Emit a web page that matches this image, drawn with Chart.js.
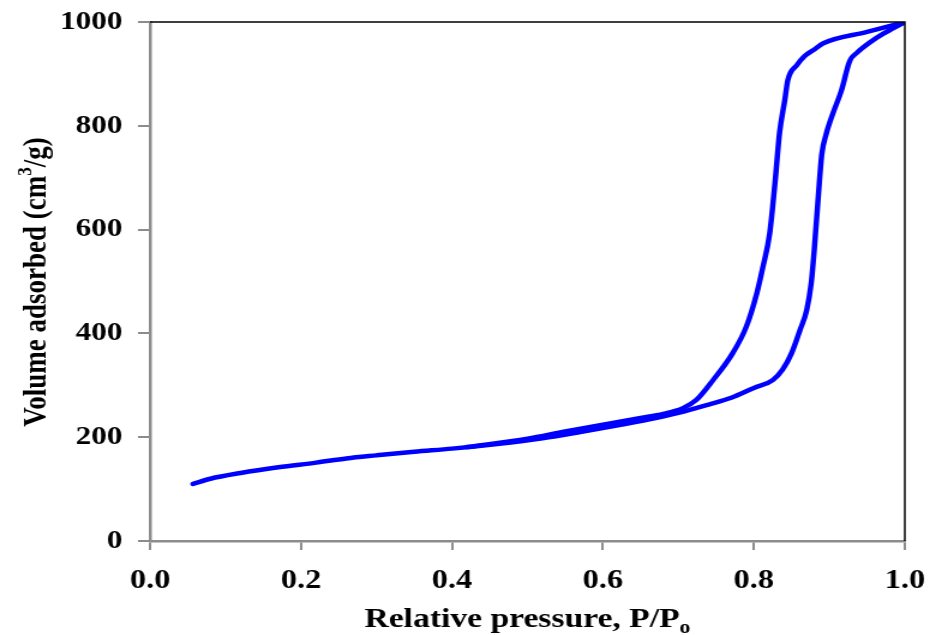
<!doctype html>
<html lang="en">
  <head>
    <meta charset="utf-8">
    <title>Isotherm</title>
    <style>
      * {
        margin: 0;
        padding: 0;
      }
      body {
        background: white;
        overflow: hidden;
      }
      /* the figure is drawn narrow and stretched sideways */
      .chartBox {
        width: 775px;
        height: 635px;
        transform: scaleX(1.2);
        transform-origin: 0 0;
      }
    </style>
  </head>
  <body>
    <div class="chartBox">
      <canvas id="myChart" width="775" height="635"></canvas>
    </div>
    <script src="https://cdn.jsdelivr.net/npm/chart.js/dist/chart.umd.min.js"></script>
    <script>
    // adsorption branch
    const adsP = [0.057, 0.08, 0.12, 0.17, 0.22, 0.26, 0.30, 0.35, 0.40, 0.46, 0.52, 0.57, 0.62, 0.66,
                  0.70, 0.74, 0.77, 0.80, 0.825, 0.838, 0.850, 0.861, 0.870, 0.876, 0.880, 0.885,
                  0.890, 0.896, 0.905, 0.916, 0.927, 0.936, 0.955, 0.971, 0.985, 1.0];
    const adsV = [110, 120, 131, 142, 151, 159, 165, 172, 178, 187, 198, 210, 223, 234,
                  247, 263, 276, 295, 310, 330, 362, 406, 445, 497, 561, 657,
                  745, 785, 825, 868, 925, 940, 962, 977, 988, 1000];

    // desorption branch
    const desP = [1.0, 0.95, 0.892, 0.879, 0.867, 0.857, 0.845, 0.841, 0.834, 0.828, 0.821, 0.812,
                  0.804, 0.790, 0.772, 0.746, 0.724, 0.706, 0.68, 0.65, 0.60, 0.55, 0.50, 0.42];
    const desV = [1000, 981, 959, 946, 934, 917, 888, 850, 786, 690, 593, 528,
                  478, 413, 362, 310, 272, 256, 245, 237, 224, 211, 197, 181];

    const xTicks = [0, 0.2, 0.4, 0.6, 0.8, 1.0];
    const yTicks = [0, 200, 400, 600, 800, 1000];

    const blue = '#0000FF';
    const axisGrey = '#8C8C8C';
    const serif = "'Liberation Serif', 'Times New Roman', serif";

    const pts = (xs, ys) => xs.map((x, i) => ({ x: x, y: ys[i] }));

    // box edges, axis titles with super/subscripts
    const frame = {
      id: 'frame',
      afterDraw(chart) {
        const { ctx, chartArea: a } = chart;
        ctx.save();
        ctx.strokeStyle = '#000';
        ctx.lineWidth = 1.5;
        ctx.beginPath();
        ctx.moveTo(a.left, a.top);
        ctx.lineTo(a.right, a.top);
        ctx.lineTo(a.right, a.bottom);
        ctx.stroke();

        ctx.fillStyle = '#000';
        ctx.textBaseline = 'alphabetic';
        ctx.textAlign = 'left';

        // x title
        ctx.font = 'bold 28px ' + serif;
        const xMain = 'Relative pressure, P/P';
        const wMain = ctx.measureText(xMain).width;
        ctx.font = 'bold 18px ' + serif;
        const wSub = ctx.measureText('o').width;
        let x0 = (a.left + a.right) / 2 - (wMain + wSub) / 2;
        ctx.font = 'bold 28px ' + serif;
        ctx.fillText(xMain, x0, 627);
        ctx.font = 'bold 18px ' + serif;
        ctx.fillText('o', x0 + wMain, 633);

        // y title
        const big = 'bold 27px ' + serif;
        const small = 'bold 17px ' + serif;
        ctx.translate(29, 282);
        ctx.rotate(-Math.PI / 2);
        const y1 = 'Volume adsorbed (cm', y2 = '3', y3 = '/g)';
        ctx.font = big;
        const w1 = ctx.measureText(y1).width, w3 = ctx.measureText(y3).width;
        ctx.font = small;
        const w2 = ctx.measureText(y2).width;
        let s = -(w1 + w2 + w3) / 2;
        ctx.font = big;
        ctx.fillText(y1, s, 9);
        ctx.font = small;
        ctx.fillText(y2, s + w1, -3);
        ctx.font = big;
        ctx.fillText(y3, s + w1 + w2, 9);
        ctx.restore();
      }
    };

    const data = {
      datasets: [{
        label: 'Adsorption',
        data: pts(adsP, adsV)
      }, {
        label: 'Desorption',
        data: pts(desP, desV)
      }]
    };
    data.datasets.forEach(d => {
      d.showLine = true;
      d.borderColor = blue;
      d.borderWidth = 4.5;
      d.borderJoinStyle = 'round';
      d.borderCapStyle = 'round';
      d.pointRadius = 0;
      d.cubicInterpolationMode = 'monotone';
      d.fill = false;
    });

    const config = {
      type: 'scatter',
      data,
      options: {
        responsive: false,
        animation: false,
        layout: { padding: { left: 0, top: 22, right: 21, bottom: 0 } },
        plugins: {
          legend: { display: false },
          tooltip: { enabled: false }
        },
        scales: {
          x: {
            type: 'linear',
            min: 0,
            max: 1,
            afterBuildTicks: s => { s.ticks = xTicks.map(v => ({ value: v })); },
            afterFit: s => {
              s.height = 94;
              s.paddingLeft = 0;
              s.paddingRight = 0;
            },
            ticks: {
              color: '#000',
              padding: 15,
              font: { family: serif, size: 27, weight: 'bold' },
              callback: v => v.toFixed(1)
            },
            grid: { drawOnChartArea: false, tickLength: 9, color: axisGrey, lineWidth: 2 },
            border: { color: axisGrey, width: 2.5 }
          },
          y: {
            type: 'linear',
            min: 0,
            max: 1000,
            afterBuildTicks: s => { s.ticks = yTicks.map(v => ({ value: v })); },
            afterFit: s => {
              s.width = 125;
              s.paddingTop = 0;
              s.paddingBottom = 0;
            },
            ticks: {
              color: '#000',
              padding: 13,
              font: { family: serif, size: 26, weight: 'bold' },
              callback: v => String(v)
            },
            grid: { drawOnChartArea: false, tickLength: 10, color: axisGrey, lineWidth: 2 },
            border: { color: axisGrey, width: 2.5 }
          }
        }
      },
      plugins: [frame]
    };

    const myChart = new Chart(document.getElementById('myChart'), config);
    </script>
  </body>
</html>
